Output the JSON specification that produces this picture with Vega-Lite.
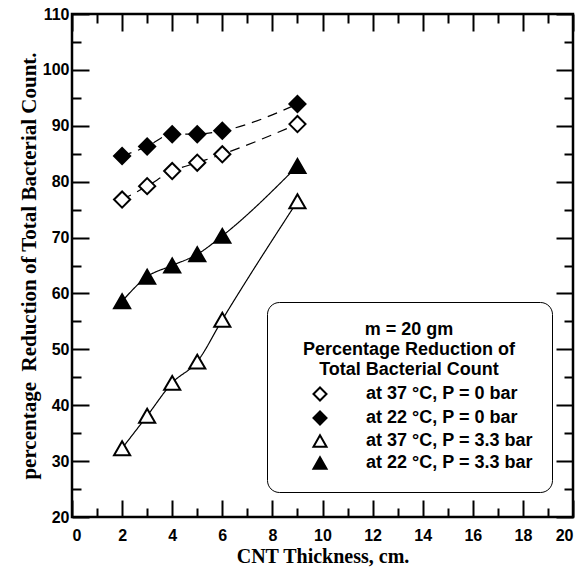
{
  "$schema": "https://vega.github.io/schema/vega-lite/v6.json",
  "width": 501,
  "height": 503,
  "autosize": "none",
  "padding": {"left": 72, "top": 14, "right": 12, "bottom": 51},
  "background": "white",
  "config": {
    "view": {"stroke": "black", "strokeWidth": 2.5},
    "axis": {
      "domain": false, "grid": false,
      "labelFont": "Liberation Sans", "labelFontWeight": "bold", "labelFontSize": 16, "labelColor": "black",
      "titleFont": "Liberation Serif", "titleFontWeight": "bold", "titleFontSize": 20, "titleColor": "black",
      "tickColor": "black", "tickWidth": 2
    },
    "legend": {"orient": "none", "legendX": 195, "legendY": 288,
      "titleFont": "Liberation Sans", "titleFontSize": 18, "titleFontWeight": "bold", "titleColor": "black",
      "titleAnchor": "middle", "titleAlign": "center", "titleLineHeight": 20, "titlePadding": 6, "titleLimit": 400,
      "labelFont": "Liberation Sans", "labelFontSize": 18, "labelFontWeight": "bold", "labelColor": "black", "labelLimit": 300,
      "symbolSize": 170, "symbolStrokeColor": "black", "symbolStrokeWidth": 2, "symbolOffset": 25, "labelOffset": 37,
      "rowPadding": 2, "padding": 19, "strokeColor": "black", "cornerRadius": 12, "fillColor": "white"}
  },
  "data": {"values": [
    {"series": "at 37 °C, P = 0 bar", "pressure": "0 bar", "thickness": 2, "reduction": 76.8},
    {"series": "at 37 °C, P = 0 bar", "pressure": "0 bar", "thickness": 3, "reduction": 79.2},
    {"series": "at 37 °C, P = 0 bar", "pressure": "0 bar", "thickness": 4, "reduction": 81.9},
    {"series": "at 37 °C, P = 0 bar", "pressure": "0 bar", "thickness": 5, "reduction": 83.4},
    {"series": "at 37 °C, P = 0 bar", "pressure": "0 bar", "thickness": 6, "reduction": 84.9},
    {"series": "at 37 °C, P = 0 bar", "pressure": "0 bar", "thickness": 9, "reduction": 90.3},
    {"series": "at 22 °C, P = 0 bar", "pressure": "0 bar", "thickness": 2, "reduction": 84.6},
    {"series": "at 22 °C, P = 0 bar", "pressure": "0 bar", "thickness": 3, "reduction": 86.3},
    {"series": "at 22 °C, P = 0 bar", "pressure": "0 bar", "thickness": 4, "reduction": 88.5},
    {"series": "at 22 °C, P = 0 bar", "pressure": "0 bar", "thickness": 5, "reduction": 88.5},
    {"series": "at 22 °C, P = 0 bar", "pressure": "0 bar", "thickness": 6, "reduction": 89.1},
    {"series": "at 22 °C, P = 0 bar", "pressure": "0 bar", "thickness": 9, "reduction": 93.9},
    {"series": "at 37 °C, P = 3.3 bar", "pressure": "3.3 bar", "thickness": 2, "reduction": 32.3},
    {"series": "at 37 °C, P = 3.3 bar", "pressure": "3.3 bar", "thickness": 3, "reduction": 38.1},
    {"series": "at 37 °C, P = 3.3 bar", "pressure": "3.3 bar", "thickness": 4, "reduction": 44.0},
    {"series": "at 37 °C, P = 3.3 bar", "pressure": "3.3 bar", "thickness": 5, "reduction": 47.8},
    {"series": "at 37 °C, P = 3.3 bar", "pressure": "3.3 bar", "thickness": 6, "reduction": 55.3},
    {"series": "at 37 °C, P = 3.3 bar", "pressure": "3.3 bar", "thickness": 9, "reduction": 76.5},
    {"series": "at 22 °C, P = 3.3 bar", "pressure": "3.3 bar", "thickness": 2, "reduction": 58.6},
    {"series": "at 22 °C, P = 3.3 bar", "pressure": "3.3 bar", "thickness": 3, "reduction": 63.0},
    {"series": "at 22 °C, P = 3.3 bar", "pressure": "3.3 bar", "thickness": 4, "reduction": 65.0},
    {"series": "at 22 °C, P = 3.3 bar", "pressure": "3.3 bar", "thickness": 5, "reduction": 67.0},
    {"series": "at 22 °C, P = 3.3 bar", "pressure": "3.3 bar", "thickness": 6, "reduction": 70.3},
    {"series": "at 22 °C, P = 3.3 bar", "pressure": "3.3 bar", "thickness": 9, "reduction": 82.8}
  ]},
  "layer": [
    {
      "mark": {"type": "line", "color": "black", "strokeWidth": 1.2, "interpolate": "monotone"},
      "encoding": {
        "x": {"field": "thickness", "type": "quantitative",
          "scale": {"domain": [0, 20], "nice": false},
          "axis": {"orient": "bottom", "title": "CNT Thickness, cm.",
            "values": [0,1,2,3,4,5,6,7,8,9,10,11,12,13,14,15,16,17,18,19,20],
            "labelExpr": "datum.value % 2 === 0 ? datum.label : ''",
            "tickSize": {"condition": {"test": "datum.value % 2 === 0", "value": -17}, "value": -9},
            "labelPadding": 27, "titlePadding": 3}},
        "y": {"field": "reduction", "type": "quantitative",
          "scale": {"domain": [20, 110], "nice": false},
          "axis": {"orient": "left", "title": "percentage\u00a0\u00a0Reduction of Total Bacterial Count.",
            "titleFontSize": 21,
            "values": [20,25,30,35,40,45,50,55,60,65,70,75,80,85,90,95,100,105,110],
            "labelExpr": "datum.value % 10 === 0 ? datum.label : ''",
            "tickSize": {"condition": {"test": "datum.value % 10 === 0", "value": -17}, "value": -9},
            "labelPadding": 20, "titlePadding": 3}},
        "detail": {"field": "series", "type": "nominal"},
        "strokeDash": {"field": "pressure", "type": "nominal",
          "scale": {"domain": ["0 bar", "3.3 bar"], "range": [[10, 7], [1, 0]]}, "legend": null}
      }
    },
    {
      "mark": {"type": "point", "strokeWidth": 2, "size": 260, "opacity": 1, "fillOpacity": 1},
      "encoding": {
        "x": {"field": "thickness", "type": "quantitative",
          "scale": {"domain": [0, 20], "nice": false},
          "axis": {"orient": "top", "title": null, "labels": false,
            "values": [0,1,2,3,4,5,6,7,8,9,10,11,12,13,14,15,16,17,18,19,20],
            "tickSize": {"condition": {"test": "datum.value % 2 === 0", "value": -17}, "value": -9}}},
        "y": {"field": "reduction", "type": "quantitative",
          "scale": {"domain": [20, 110], "nice": false},
          "axis": {"orient": "right", "title": null, "labels": false,
            "values": [20,25,30,35,40,45,50,55,60,65,70,75,80,85,90,95,100,105,110],
            "tickSize": {"condition": {"test": "datum.value % 10 === 0", "value": -17}, "value": -9}}},
        "shape": {"field": "series", "type": "nominal",
          "scale": {"domain": ["at 37 °C, P = 0 bar", "at 22 °C, P = 0 bar", "at 37 °C, P = 3.3 bar", "at 22 °C, P = 3.3 bar"],
            "range": ["diamond", "diamond", "triangle-up", "triangle-up"]},
          "legend": {"title": ["m = 20 gm", "Percentage Reduction of", "Total Bacterial Count"]}},
        "fill": {"field": "series", "type": "nominal",
          "scale": {"domain": ["at 37 °C, P = 0 bar", "at 22 °C, P = 0 bar", "at 37 °C, P = 3.3 bar", "at 22 °C, P = 3.3 bar"],
            "range": ["white", "black", "white", "black"]},
          "legend": {"title": ["m = 20 gm", "Percentage Reduction of", "Total Bacterial Count"]}},
        "stroke": {"field": "series", "type": "nominal",
          "scale": {"domain": ["at 37 °C, P = 0 bar", "at 22 °C, P = 0 bar", "at 37 °C, P = 3.3 bar", "at 22 °C, P = 3.3 bar"],
            "range": ["black", "black", "black", "black"]},
          "legend": {"title": ["m = 20 gm", "Percentage Reduction of", "Total Bacterial Count"]}}
      }
    }
  ],
  "resolve": {"axis": {"x": "independent", "y": "independent"}}
}
